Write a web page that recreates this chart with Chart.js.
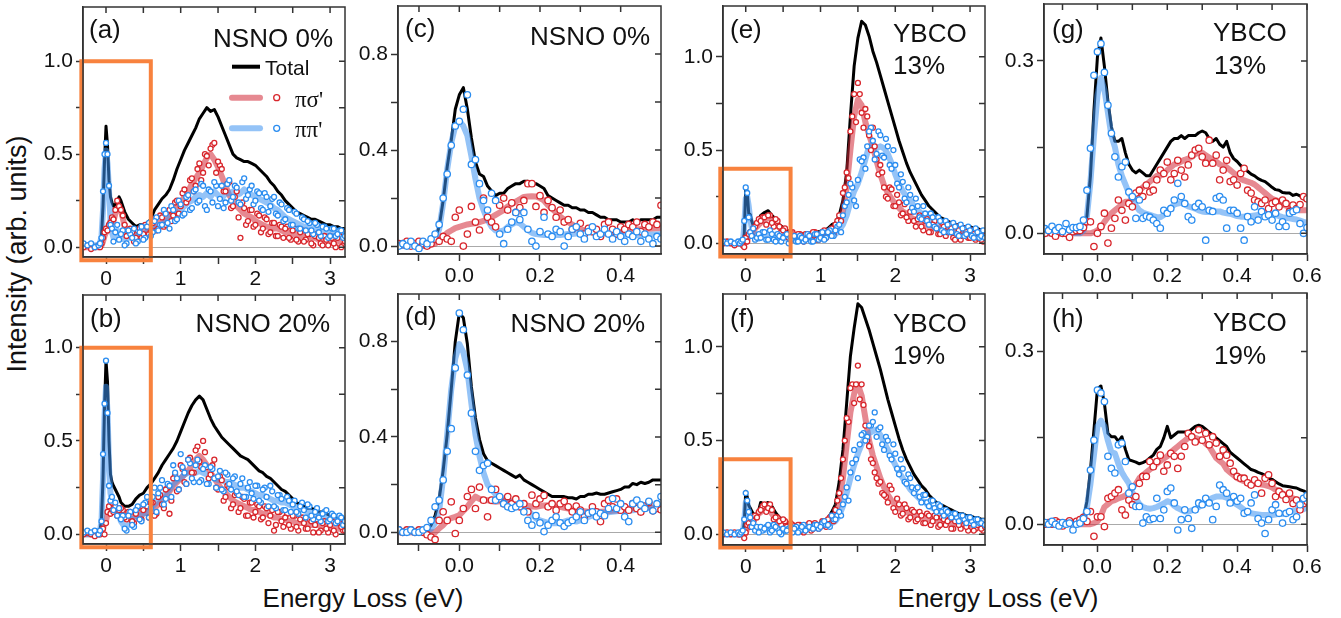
<!DOCTYPE html>
<html>
<head>
<meta charset="utf-8">
<script src="https://cdn.jsdelivr.net/npm/chart.js@4.4.0/dist/chart.umd.min.js"></script>
<style>
  body { margin: 0; background: #fff; width: 1341px; height: 618px; position: relative; overflow: hidden;
         font-family: "Liberation Sans", Arial, sans-serif; }
  canvas { position: absolute; }
  .title { position: absolute; font-size: 26px; line-height: 26px; white-space: nowrap; color: #111; }
</style>
</head>
<body>
<div class="title" style="left:17px;top:254px;font-size:27px;line-height:27px;transform:translate(-50%,-50%) rotate(-90deg)">Intensity (arb. units)</div>
<div class="title" style="left:363px;top:585px;transform:translateX(-50%)">Energy Loss (eV)</div>
<div class="title" style="left:998px;top:585px;transform:translateX(-50%)">Energy Loss (eV)</div>
<script>
// energy grid for the wide panels (a, b, e, f)
const WX = [-0.3,-0.25,-0.2,-0.15,-0.1,
  -0.08,-0.06,-0.04,-0.02,0,0.02,0.04,0.06,0.08,0.1,
  0.125,0.15,0.175,
  0.2,0.25,0.3,0.35,0.4,0.45,0.5,0.55,0.6,0.65,
  0.7,0.75,0.8,0.85,0.9,0.95,1,1.05,1.1,1.15,
  1.2,1.25,1.3,1.35,1.4,1.45,1.5,1.55,1.6,1.65,
  1.7,1.75,1.8,1.85,1.9,1.95,2,2.05,2.1,2.15,
  2.2,2.25,2.3,2.35,2.4,2.45,2.5,2.55,2.6,2.65,
  2.7,2.75,2.8,2.85,2.9,2.95,3,3.05,3.1,3.15,
  3.2];
// in-between energies of the extra data points in the wide panels
const WX2 = [0.225,0.275,0.325,0.375,0.425,0.475,0.525,0.575,0.625,0.675,
  0.725,0.775,0.825,0.875,0.925,0.975,1.025,1.075,1.125,1.175,
  1.225,1.275,1.325,1.375,1.425,1.475,1.525,1.575,1.625,1.675,
  1.725,1.775,1.825,1.875,1.925,1.975,2.025,2.075,2.125,2.175,
  2.225,2.275,2.325,2.375,2.425,2.475,2.525,2.575,2.625,2.675,
  2.725,2.775,2.825,2.875,2.925,2.975,3.025,3.075,3.125,3.175];

// energy grid for the low-energy panels (c, d) and (g, h)
const NX = [-0.15,-0.14,-0.13,-0.12,-0.11,-0.1,-0.09,-0.08,-0.07,-0.06,
  -0.05,-0.04,-0.03,-0.02,-0.01,0,0.01,0.02,0.03,0.04,
  0.05,0.06,0.07,0.08,0.09,0.1,0.11,0.12,0.13,0.14,
  0.15,0.16,0.17,0.18,0.19,0.2,0.21,0.22,0.23,0.24,
  0.25,0.26,0.27,0.28,0.29,0.3,0.31,0.32,0.33,0.34,
  0.35,0.36,0.37,0.38,0.39,0.4,0.41,0.42,0.43,0.44,
  0.45,0.46,0.47,0.48,0.49,0.5];
const YX = NX.concat([0.51,0.52,0.53,0.54,0.55,0.56,0.57,0.58,0.59,0.6]);

// (a) NSNO 0%
const aTotal = [0.01,0.01,0.01,0.01,0.01,
  0.02,0.06,0.22,0.46,0.65,0.55,0.36,0.27,0.24,0.22,
  0.23,0.25,0.27,
  0.25,0.19,0.15,0.13,0.11,0.12,0.12,0.13,0.15,0.2,
  0.23,0.26,0.28,0.31,0.36,0.42,0.47,0.52,0.56,0.6,
  0.64,0.69,0.72,0.75,0.73,0.74,0.7,0.65,0.6,0.55,
  0.5,0.48,0.47,0.46,0.46,0.45,0.44,0.42,0.4,0.38,
  0.35,0.33,0.3,0.28,0.25,0.23,0.21,0.19,0.18,0.17,
  0.16,0.15,0.15,0.14,0.13,0.12,0.12,0.11,0.11,0.1,
  0.1];
const aRedFit = [0,0,0,0,0,
  0,0.01,0.03,0.06,0.08,0.1,0.12,0.14,0.13,0.14,
  0.18,0.21,0.22,
  0.2,0.11,0.07,0.06,0.06,0.07,0.08,0.09,0.1,0.12,
  0.13,0.13,0.15,0.17,0.19,0.22,0.24,0.27,0.3,0.34,
  0.37,0.4,0.44,0.48,0.5,0.47,0.43,0.38,0.33,0.28,
  0.25,0.22,0.2,0.18,0.17,0.16,0.14,0.13,0.12,0.11,
  0.11,0.1,0.1,0.09,0.08,0.08,0.07,0.07,0.06,0.06,
  0.05,0.05,0.05,0.04,0.04,0.04,0.03,0.03,0.03,0.03,
  0.02];
const aBlueFit = [0.01,0.01,0.01,0.01,0.01,
  0.02,0.06,0.2,0.42,0.52,0.45,0.3,0.15,0.08,0.05,
  0.07,0.09,0.07,
  0.05,0.04,0.05,0.05,0.06,0.06,0.07,0.08,0.09,0.1,
  0.11,0.12,0.14,0.15,0.17,0.18,0.2,0.22,0.24,0.25,
  0.27,0.28,0.27,0.29,0.27,0.3,0.28,0.26,0.29,0.29,
  0.3,0.28,0.29,0.31,0.29,0.28,0.27,0.26,0.25,0.24,
  0.23,0.21,0.2,0.18,0.16,0.15,0.14,0.13,0.12,0.11,
  0.11,0.1,0.1,0.09,0.09,0.08,0.08,0.08,0.07,0.07,
  0.07];
const aRedPts = [0,0.01,-0.01,0,0.01,
  0,0.02,0.05,0.08,0.1,0.09,0.12,0.13,0.16,0.15,
  0.2,0.25,0.22,
  0.2,0.12,0.09,0.08,0.05,0.1,0.07,0.11,0.09,0.15,
  0.1,0.16,0.12,0.2,0.17,0.25,0.22,0.31,0.26,0.37,
  0.33,0.45,0.4,0.49,0.53,0.56,0.46,0.42,0.3,0.35,
  0.22,0.3,0.05,0.21,0.14,0.2,0.12,0.17,0.1,0.15,
  0.08,0.13,0.06,0.11,0.1,0.05,0.09,0.04,0.08,0.03,
  0.07,0.02,0.06,0.05,0.01,0.04,0.06,0.02,0.05,0,
  0.03];
const aBluePts = [0.02,0.01,0.02,0,0.01,
  0.02,0.05,0.3,0.5,0.56,0.5,0.33,0.12,0.1,0.03,
  0.08,0.12,0.04,
  0.07,0.01,0.09,0.05,0.02,0.08,0.04,0.11,0.06,0.14,
  0.09,0.12,0.18,0.1,0.2,0.15,0.23,0.18,0.28,0.21,
  0.31,0.25,0.33,0.2,0.3,0.35,0.22,0.33,0.24,0.36,
  0.27,0.32,0.23,0.37,0.28,0.33,0.25,0.29,0.2,0.27,
  0.22,0.27,0.17,0.23,0.15,0.2,0.12,0.18,0.1,0.15,
  0.14,0.09,0.13,0.08,0.11,0.1,0.06,0.1,0.07,0.09,
  0.06];
const aRedPts2 = [0.17,0.06,0.1,0.03,0.09,0.05,0.12,0.07,0.13,0.09,
  0.17,0.11,0.19,0.14,0.24,0.18,0.29,0.24,0.36,0.3,
  0.42,0.36,0.5,0.44,0.55,0.4,0.44,0.3,0.34,0.21,
  0.27,0.16,0.24,0.12,0.2,0.11,0.18,0.08,0.16,0.07,
  0.13,0.06,0.12,0.05,0.11,0.04,0.1,0.03,0.09,0.04,
  0.07,0.01,0.07,0.02,0.06,0.01,0.05,0,0.06,0.01];
const aBluePts2 = [0.09,0.02,0.07,0.1,0.03,0.11,0.05,0.13,0.08,0.16,
  0.12,0.2,0.13,0.22,0.14,0.25,0.17,0.27,0.2,0.3,
  0.24,0.34,0.22,0.31,0.24,0.33,0.26,0.21,0.34,0.25,
  0.33,0.24,0.35,0.26,0.31,0.23,0.3,0.21,0.29,0.19,
  0.26,0.18,0.24,0.14,0.21,0.12,0.19,0.1,0.16,0.09,
  0.13,0.07,0.12,0.06,0.11,0.05,0.1,0.06,0.09,0.05];

// (b) NSNO 20%
const bTotal = [0,0,0,0,0.01,
  0.02,0.08,0.3,0.68,0.93,0.82,0.5,0.32,0.28,0.26,
  0.24,0.22,0.2,
  0.17,0.15,0.15,0.16,0.19,0.21,0.22,0.25,0.27,0.3,
  0.33,0.37,0.4,0.43,0.46,0.5,0.55,0.6,0.65,0.69,
  0.72,0.74,0.72,0.67,0.62,0.58,0.55,0.52,0.5,0.48,
  0.46,0.44,0.42,0.41,0.4,0.38,0.36,0.34,0.33,0.31,
  0.3,0.28,0.26,0.24,0.23,0.21,0.19,0.17,0.16,0.15,
  0.14,0.14,0.13,0.12,0.12,0.11,0.1,0.1,0.09,0.09,
  0.08];
const bRedFit = [0,0,0,0,0,
  0,0,0.03,0.06,0.07,0.11,0.15,0.14,0.13,0.13,
  0.13,0.12,0.12,
  0.12,0.11,0.1,0.09,0.1,0.11,0.11,0.12,0.13,0.14,
  0.16,0.18,0.2,0.23,0.26,0.28,0.3,0.32,0.34,0.37,
  0.4,0.42,0.4,0.37,0.33,0.3,0.27,0.24,0.22,0.2,
  0.18,0.17,0.16,0.15,0.14,0.13,0.13,0.12,0.11,0.11,
  0.1,0.09,0.09,0.08,0.08,0.07,0.07,0.06,0.06,0.06,
  0.05,0.05,0.05,0.05,0.04,0.04,0.04,0.04,0.03,0.03,
  0.03];
const bBlueFit = [0,0,0,0,0.01,
  0.02,0.07,0.3,0.63,0.79,0.66,0.36,0.22,0.18,0.15,
  0.14,0.12,0.1,
  0.07,0.04,0.05,0.08,0.09,0.1,0.11,0.12,0.14,0.16,
  0.18,0.2,0.22,0.24,0.27,0.29,0.3,0.32,0.33,0.33,
  0.33,0.34,0.33,0.32,0.31,0.3,0.29,0.29,0.28,0.28,
  0.27,0.26,0.25,0.25,0.24,0.23,0.22,0.21,0.21,0.2,
  0.19,0.18,0.18,0.17,0.17,0.16,0.15,0.14,0.14,0.13,
  0.12,0.12,0.11,0.11,0.1,0.1,0.09,0.09,0.08,0.08,
  0.08];
const bRedPts = [0,0.01,0,-0.01,0,
  0,0.01,0.03,0,0.06,0.12,0.15,0.11,0.17,0.12,
  0.15,0.1,0.13,
  0.14,0.09,0.12,0.07,0.11,0.08,0.13,0.15,0.17,0.1,
  0.2,0.16,0.24,0.11,0.3,0.23,0.37,0.28,0.4,0.33,
  0.45,0.39,0.5,0.36,0.32,0.4,0.24,0.29,0.2,0.25,
  0.16,0.22,0.14,0.19,0.1,0.17,0.12,0.15,0.09,0.14,
  0.1,0.02,0.12,0.07,0.09,0.05,0.1,0.04,0.08,0.06,
  0.03,0.07,0.05,0.01,0.06,0.03,0.05,0.02,0.06,0.04,
  0.02];
const bBluePts = [0.01,0.02,0.01,0.02,0,
  0.02,0.07,0.43,0.7,0.93,0.65,0.26,0.18,0.2,0.13,
  0.17,0.1,0.14,
  0.08,0.03,0.1,0.05,0.13,0.08,0.16,0.2,0.14,0.25,
  0.22,0.29,0.19,0.26,0.37,0.3,0.43,0.33,0.4,0.3,
  0.37,0.28,0.35,0.27,0.36,0.3,0.31,0.24,0.33,0.27,
  0.3,0.23,0.27,0.2,0.25,0.22,0.26,0.18,0.24,0.2,
  0.26,0.15,0.21,0.19,0.13,0.18,0.16,0.12,0.15,0.13,
  0.16,0.1,0.12,0.09,0.11,0.13,0.08,0.1,0.07,0.09,
  0.07];
const bRedPts2 = [0.13,0.08,0.12,0.06,0.14,0.08,0.15,0.09,0.17,0.11,
  0.21,0.14,0.25,0.18,0.32,0.24,0.35,0.27,0.41,0.33,
  0.47,0.36,0.44,0.3,0.37,0.25,0.31,0.18,0.26,0.14,
  0.21,0.12,0.2,0.1,0.17,0.09,0.16,0.08,0.15,0.06,
  0.13,0.05,0.12,0.04,0.11,0.03,0.1,0.02,0.09,0.03,
  0.08,0.01,0.08,0.02,0.07,0.01,0.07,0,0.06,0.02];
const bBluePts2 = [0.1,0.02,0.12,0.04,0.15,0.07,0.17,0.09,0.2,0.12,
  0.25,0.16,0.27,0.2,0.33,0.24,0.36,0.27,0.38,0.28,
  0.4,0.29,0.37,0.27,0.35,0.25,0.34,0.23,0.32,0.24,
  0.31,0.21,0.3,0.2,0.28,0.19,0.26,0.17,0.25,0.15,
  0.23,0.14,0.21,0.13,0.2,0.12,0.18,0.11,0.17,0.09,
  0.15,0.08,0.14,0.07,0.12,0.07,0.11,0.06,0.1,0.05];

// (c) NSNO 0%, low energy
const cTotal = [0.01,0.01,0.01,0.01,0.01,0.01,0.01,0.01,0.02,0.03,
  0.08,0.19,0.33,0.44,0.57,0.63,0.66,0.57,0.45,0.35,
  0.3,0.29,0.25,0.23,0.21,0.22,0.22,0.24,0.25,0.26,
  0.26,0.27,0.27,0.26,0.26,0.25,0.24,0.21,0.2,0.19,
  0.18,0.17,0.17,0.16,0.16,0.15,0.15,0.14,0.14,0.13,
  0.12,0.12,0.11,0.11,0.11,0.1,0.1,0.1,0.11,0.1,
  0.11,0.11,0.11,0.11,0.12,0.12];
const cRedFit = [0,0,0,0,0,0,0,0,0.005,0.01,
  0.025,0.04,0.055,0.065,0.075,0.08,0.085,0.09,0.093,0.095,
  0.1,0.105,0.11,0.12,0.13,0.14,0.15,0.165,0.175,0.185,
  0.195,0.205,0.207,0.208,0.207,0.2,0.19,0.17,0.155,0.14,
  0.123,0.11,0.1,0.09,0.08,0.07,0.065,0.06,0.058,0.055,
  0.054,0.053,0.053,0.055,0.058,0.062,0.065,0.067,0.068,0.07,
  0.07,0.071,0.072,0.073,0.074,0.075];
const cBlueFit = [0,0,0,0,0,0,0,0.005,0.01,0.03,
  0.07,0.18,0.32,0.43,0.5,0.52,0.5,0.46,0.375,0.28,
  0.2,0.15,0.11,0.08,0.065,0.06,0.065,0.08,0.09,0.1,
  0.095,0.08,0.067,0.055,0.05,0.048,0.046,0.046,0.045,0.046,
  0.046,0.048,0.05,0.05,0.052,0.055,0.057,0.058,0.058,0.056,
  0.055,0.054,0.053,0.052,0.05,0.05,0.048,0.046,0.045,0.045,
  0.045,0.046,0.047,0.048,0.048,0.05];
const cRedPts = [0.01,0.01,0.02,0,0.01,0.02,0.01,0,0.01,0.03,
  0.02,0.04,0.03,0.02,0.12,0.15,0,0.05,0.165,0.1,
  0.067,0.2,0.12,0.1,0.08,0.17,0.2,0.15,0.18,0.14,
  0.16,0.19,0.26,0.26,0.165,0.21,0.14,0.19,0.16,0.12,
  0.15,0.1,0.11,0.07,0.08,0.095,0.05,0.074,0.06,0.07,
  0.04,0.09,0.1,0.07,0.05,0.08,0.07,0.09,0.08,0.1,
  0.06,0.09,0.08,0.1,0.09,0.17];
const cBluePts = [0,0.01,0,0.02,0,-0.01,0.02,0.01,0.03,0.05,
  0.09,0.2,0.3,0.42,0.5,0.52,0.57,0.63,0.34,0.36,
  0.26,0.19,0.15,0.22,0.19,0.05,0.01,0.07,0.1,0.14,
  0.11,0.14,0.07,0.02,0,0.06,0.12,0.05,0.04,0.07,
  0.06,0,0.04,0.07,0.08,0.05,0.03,0.06,0.08,0.04,
  0.05,0.07,0.05,0.03,0.06,0.04,0.02,0.05,0.04,0.06,
  0.02,0.05,0.03,0.01,0.04,0.03];

// (d) NSNO 20%, low energy
const dTotal = [0.01,0.01,0.01,0.01,0.01,0.01,0.01,0.01,0.03,0.07,
  0.14,0.26,0.41,0.6,0.8,0.92,0.9,0.79,0.61,0.48,
  0.39,0.33,0.3,0.29,0.28,0.27,0.26,0.25,0.24,0.23,
  0.24,0.22,0.21,0.2,0.19,0.18,0.17,0.16,0.15,0.15,
  0.15,0.15,0.145,0.145,0.14,0.15,0.15,0.16,0.16,0.165,
  0.16,0.16,0.165,0.17,0.175,0.18,0.19,0.19,0.205,0.2,
  0.21,0.205,0.21,0.22,0.22,0.22];
const dRedFit = [0,0,0,0,0,0,0,0,0,0,
  0.017,0.03,0.05,0.06,0.065,0.072,0.09,0.107,0.13,0.15,
  0.14,0.137,0.135,0.13,0.128,0.13,0.133,0.135,0.13,0.125,
  0.12,0.115,0.112,0.108,0.107,0.11,0.113,0.114,0.11,0.108,
  0.107,0.103,0.1,0.096,0.093,0.09,0.088,0.086,0.086,0.086,
  0.086,0.087,0.088,0.09,0.092,0.093,0.096,0.1,0.103,0.105,
  0.107,0.106,0.104,0.102,0.1,0.1];
const dBlueFit = [0,0,0,0,0,0,0,0.005,0.015,0.04,
  0.09,0.23,0.41,0.6,0.73,0.79,0.755,0.68,0.54,0.41,
  0.32,0.25,0.2,0.18,0.16,0.15,0.14,0.135,0.125,0.12,
  0.11,0.1,0.093,0.075,0.058,0.05,0.045,0.04,0.038,0.038,
  0.04,0.045,0.05,0.048,0.045,0.05,0.055,0.065,0.07,0.075,
  0.08,0.082,0.084,0.086,0.088,0.09,0.09,0.092,0.093,0.095,
  0.097,0.1,0.102,0.104,0.107,0.11];
const dRedPts = [0.01,0,0.01,0.01,0,0.01,0,-0.01,-0.02,-0.03,
  0.05,0.086,0.05,0.128,-0.005,0.05,0.1,0.15,0.18,0.1,
  0.19,0.135,0.065,0.135,0.18,0.14,0.12,0.15,0.12,0.14,
  0.107,0.12,0.086,0.156,0.12,0.14,0.155,0.107,0.12,0.093,
  0.12,0.13,0.107,0.086,0.11,0.093,0.065,0.08,0.107,0.086,
  0.045,0.12,0.135,0.107,0.14,0.093,0.107,0.093,0.12,0.1,
  0.085,0.11,0.125,0.09,0.1,0.095];
const dBluePts = [0.01,0,0,0.01,0,0,0.01,0.02,0.05,0.107,
  0.135,0.22,0.34,0.435,0.69,0.92,0.85,0.66,0.5,0.34,
  0.26,0.28,0.29,0.18,0.135,0.15,0.12,0.107,0.1,0.107,
  0.12,0.086,0.05,0.03,0.07,0.04,0.003,0.03,0.05,0.065,
  0.04,0.025,0.04,0.05,0.065,0.086,0.05,0.08,0.086,0.065,
  0.08,0.07,0.1,0.142,0.1,0.12,0.065,0.045,0.12,0.135,
  0.115,0.1,0.13,0.09,0.12,0.15];

// (e) YBCO 13%
const eTotal = [0,0,0,0,0,
  0,0,0.01,0.05,0.3,0.28,0.16,0.155,0.12,0.095,
  0.1,0.1,0.13,
  0.15,0.165,0.175,0.15,0.13,0.1,0.085,0.07,0.06,0.05,
  0.05,0.05,0.05,0.055,0.06,0.06,0.065,0.07,0.08,0.1,
  0.11,0.15,0.23,0.38,0.68,0.95,1.1,1.19,1.17,1.11,
  1.03,0.97,0.9,0.83,0.76,0.69,0.62,0.55,0.49,0.43,
  0.38,0.34,0.3,0.26,0.23,0.2,0.18,0.16,0.14,0.13,
  0.12,0.11,0.1,0.1,0.09,0.09,0.09,0.08,0.08,0.07,
  0.07];
const eRedFit = [0,0,0,0,0,
  0,0,0,0,0.005,0.02,0.035,0.045,0.055,0.06,
  0.08,0.09,0.1,
  0.11,0.125,0.14,0.125,0.105,0.085,0.065,0.05,0.04,0.035,
  0.035,0.03,0.03,0.035,0.03,0.035,0.04,0.045,0.05,0.06,
  0.08,0.11,0.17,0.3,0.5,0.68,0.77,0.74,0.65,0.58,
  0.52,0.44,0.37,0.31,0.27,0.24,0.21,0.19,0.17,0.16,
  0.14,0.13,0.12,0.11,0.1,0.09,0.09,0.08,0.08,0.07,
  0.07,0.06,0.06,0.06,0.05,0.05,0.05,0.05,0.04,0.04,
  0.04];
const eBlueFit = [0,0,0,0,0,
  0,0,0,0.09,0.24,0.25,0.2,0.13,0.085,0.06,
  0.04,0.03,0.025,
  0.035,0.05,0.04,0.04,0.035,0.03,0.035,0.025,0.02,0.02,
  0.02,0.025,0.025,0.03,0.03,0.035,0.035,0.04,0.045,0.05,
  0.05,0.07,0.1,0.15,0.22,0.28,0.32,0.38,0.45,0.52,
  0.53,0.51,0.52,0.51,0.48,0.43,0.37,0.32,0.28,0.25,
  0.23,0.2,0.18,0.16,0.15,0.13,0.12,0.11,0.1,0.09,
  0.09,0.08,0.08,0.07,0.07,0.06,0.06,0.06,0.05,0.05,
  0.05];
const eRedPts = [0,0.01,0,-0.01,0,
  0,0.01,-0.01,-0.02,0.03,0.01,0.05,0.06,0.04,0.08,
  0.09,0.11,0.13,
  0.12,0.14,0.15,0.11,0.13,0.09,0.07,0.05,0.06,0.02,
  0.05,0.03,0.05,0.04,0.06,0.02,0.05,0.07,0.06,0.08,
  0.1,0.15,0.27,0.38,0.6,0.8,0.86,0.7,0.72,0.58,
  0.62,0.45,0.42,0.3,0.24,0.29,0.2,0.22,0.16,0.14,
  0.17,0.12,0.13,0.09,0.12,0.06,0.1,0.08,0.05,0.09,
  0.06,0.08,0.02,0.07,0.04,0.06,0.03,0.05,0.03,0.02,
  0.04];
const eBluePts = [0.01,0,0.01,0,0.01,
  0,0.01,0.02,0.12,0.3,0.27,0.14,0.06,0.04,0.08,
  0.02,0.03,0.05,
  0.03,0.06,0.02,0.05,0.01,0.04,0.03,0.05,0.02,0.04,
  0.01,0.03,0.02,0.04,0.01,0.05,0.03,0.02,0.06,0.04,
  0.07,0.1,0.15,0.22,0.32,0.23,0.34,0.44,0.4,0.6,
  0.55,0.48,0.58,0.46,0.52,0.4,0.42,0.3,0.33,0.22,
  0.26,0.17,0.2,0.13,0.16,0.1,0.14,0.08,0.12,0.06,
  0.1,0.06,0.09,0.04,0.08,0.05,0.07,0.03,0.06,0.04,
  0.03];
const eRedPts2 = [0.14,0.1,0.15,0.09,0.12,0.06,0.08,0.03,0.06,0.02,
  0.05,0.01,0.05,0.02,0.06,0.02,0.06,0.03,0.07,0.05,
  0.12,0.12,0.3,0.35,0.68,0.65,0.8,0.62,0.68,0.5,
  0.52,0.37,0.38,0.25,0.3,0.2,0.26,0.15,0.21,0.12,
  0.17,0.09,0.15,0.07,0.13,0.06,0.12,0.05,0.11,0.04,
  0.1,0.03,0.09,0.02,0.08,0.03,0.07,0.02,0.06,0.01];
const eBluePts2 = [0.06,0.02,0.07,0.02,0.05,0.01,0.04,0,0.03,0.01,
  0.04,0.01,0.05,0.01,0.05,0.02,0.06,0.03,0.07,0.04,
  0.09,0.06,0.2,0.26,0.3,0.2,0.45,0.46,0.52,0.62,
  0.45,0.6,0.47,0.56,0.42,0.5,0.32,0.37,0.24,0.3,
  0.19,0.24,0.14,0.2,0.12,0.16,0.09,0.14,0.07,0.12,
  0.06,0.11,0.05,0.1,0.04,0.09,0.04,0.08,0.03,0.07];

// (f) YBCO 19%
const fTotal = [0,0,0,0,0,
  0,0,0,0.06,0.23,0.2,0.155,0.14,0.125,0.11,
  0.105,0.11,0.13,
  0.17,0.16,0.17,0.15,0.115,0.09,0.078,0.063,0.055,0.05,
  0.05,0.045,0.045,0.045,0.05,0.055,0.06,0.07,0.085,0.12,
  0.16,0.28,0.45,0.7,0.95,1.1,1.23,1.21,1.15,1.09,
  1.02,0.95,0.88,0.8,0.72,0.65,0.58,0.51,0.45,0.4,
  0.36,0.32,0.29,0.26,0.24,0.21,0.19,0.17,0.16,0.15,
  0.14,0.13,0.12,0.11,0.11,0.1,0.1,0.09,0.09,0.08,
  0.08];
const fRedFit = [0,0,0,0,0,
  0,0,0,0,0.005,0.03,0.04,0.045,0.05,0.065,
  0.085,0.1,0.11,
  0.118,0.14,0.146,0.11,0.08,0.07,0.064,0.05,0.04,0.035,
  0.035,0.03,0.03,0.035,0.035,0.04,0.045,0.05,0.06,0.08,
  0.1,0.18,0.3,0.48,0.65,0.75,0.8,0.74,0.62,0.5,
  0.42,0.36,0.3,0.25,0.21,0.18,0.16,0.14,0.13,0.12,
  0.11,0.1,0.1,0.09,0.09,0.08,0.08,0.07,0.07,0.07,
  0.06,0.06,0.06,0.06,0.05,0.05,0.05,0.05,0.04,0.04,
  0.04];
const fBlueFit = [0,0,0,0,0,
  0,0,0,0.07,0.17,0.17,0.12,0.095,0.075,0.055,
  0.03,0.025,0.033,
  0.036,0.022,0.03,0.048,0.042,0.019,0.015,0.02,0.028,0.025,
  0.025,0.025,0.03,0.03,0.035,0.04,0.045,0.05,0.055,0.06,
  0.07,0.1,0.15,0.22,0.3,0.37,0.43,0.48,0.52,0.54,
  0.55,0.56,0.53,0.49,0.45,0.41,0.37,0.33,0.3,0.27,
  0.24,0.22,0.2,0.18,0.17,0.15,0.14,0.13,0.12,0.11,
  0.11,0.1,0.1,0.09,0.08,0.08,0.07,0.07,0.07,0.06,
  0.06];
const fRedPts = [0,0.01,0,0.01,0,
  0,0.01,0,-0.02,0.01,0.05,0.06,0.04,0.08,0.07,
  0.1,0.09,0.12,
  0.13,0.16,0.14,0.13,0.09,0.07,0.08,0.04,0.06,0.03,
  0.05,0.02,0.04,0.06,0.03,0.05,0.04,0.07,0.08,0.1,
  0.13,0.22,0.4,0.62,0.78,0.7,0.9,0.8,0.58,0.47,
  0.38,0.3,0.28,0.21,0.17,0.24,0.12,0.16,0.11,0.14,
  0.09,0.12,0.08,0.1,0.06,0.1,0.07,0.09,0.05,0.08,
  0.07,0.03,0.07,0.05,0.08,0.04,0.06,0.02,0.05,0.03,
  0.04];
const fBluePts = [0.01,0,0.01,0,0.01,
  0,0.01,0.02,0.08,0.22,0.18,0.12,0.09,0.04,0.06,
  0.02,0.04,0.01,
  0.04,0.03,0.05,0.02,0.04,0.01,0.03,0.02,0.04,0.03,
  0.01,0.04,0.02,0.04,0.03,0.05,0.04,0.07,0.05,0.1,
  0.08,0.12,0.16,0.25,0.33,0.45,0.3,0.53,0.5,0.58,
  0.6,0.52,0.57,0.45,0.5,0.4,0.43,0.32,0.35,0.27,
  0.3,0.22,0.25,0.17,0.21,0.15,0.18,0.12,0.15,0.1,
  0.12,0.09,0.11,0.07,0.1,0.06,0.09,0.05,0.08,0.06,
  0.05];
const fRedPts2 = [0.15,0.12,0.16,0.08,0.09,0.05,0.07,0.03,0.05,0.02,
  0.05,0.01,0.05,0.02,0.06,0.03,0.07,0.04,0.09,0.07,
  0.18,0.3,0.5,0.6,0.8,0.8,0.72,0.69,0.5,0.4,
  0.33,0.27,0.22,0.2,0.26,0.14,0.19,0.1,0.16,0.08,
  0.13,0.07,0.12,0.06,0.11,0.05,0.1,0.04,0.09,0.05,
  0.08,0.03,0.08,0.03,0.07,0.02,0.06,0.03,0.06,0.02];
const fBluePts2 = [0.02,0.04,0.01,0.05,0.03,0,0.02,0.03,0.01,0.04,
  0.02,0.05,0.03,0.04,0.05,0.03,0.06,0.05,0.04,0.08,
  0.1,0.1,0.2,0.18,0.38,0.4,0.48,0.54,0.52,0.58,
  0.65,0.56,0.48,0.52,0.42,0.48,0.35,0.4,0.28,0.32,
  0.25,0.24,0.2,0.21,0.17,0.18,0.14,0.16,0.12,0.13,
  0.11,0.11,0.09,0.1,0.08,0.09,0.07,0.08,0.06,0.07];

// (g) YBCO 13%, low energy
const gTotal = [0,0,0,0,0,0,0,0,0,0,
  0,0.005,0.03,0.1,0.214,0.307,0.34,0.29,0.23,0.185,
  0.16,0.16,0.165,0.14,0.12,0.11,0.105,0.11,0.105,0.1,
  0.1,0.11,0.12,0.13,0.14,0.15,0.16,0.165,0.165,0.17,
  0.165,0.17,0.17,0.17,0.175,0.178,0.175,0.165,0.16,0.165,
  0.155,0.15,0.16,0.14,0.13,0.125,0.118,0.113,0.108,0.103,
  0.1,0.095,0.092,0.09,0.085,0.08,0.076,0.075,0.071,0.07,
  0.07,0.066,0.068,0.065,0.06,0.058];
const gRedFit = [0,0,0,0,0,0,0,0,0,0,
  0,0,0,0,0.002,0.005,0.01,0.02,0.028,0.035,
  0.04,0.045,0.05,0.055,0.055,0.06,0.065,0.075,0.08,0.085,
  0.09,0.095,0.1,0.1,0.104,0.11,0.115,0.12,0.122,0.125,
  0.128,0.13,0.133,0.138,0.14,0.14,0.136,0.132,0.128,0.125,
  0.12,0.117,0.115,0.11,0.105,0.1,0.095,0.092,0.09,0.088,
  0.085,0.08,0.075,0.07,0.065,0.06,0.058,0.055,0.05,0.048,
  0.046,0.044,0.042,0.04,0.04,0.04];
const gBlueFit = [0,0,0,0,0,0,0,0,0,0,
  0,0.005,0.03,0.09,0.17,0.24,0.27,0.25,0.21,0.17,
  0.15,0.12,0.1,0.085,0.07,0.06,0.048,0.04,0.036,0.034,
  0.032,0.03,0.028,0.028,0.032,0.038,0.045,0.05,0.052,0.053,
  0.05,0.047,0.045,0.043,0.04,0.038,0.037,0.037,0.038,0.038,
  0.038,0.036,0.035,0.034,0.032,0.03,0.029,0.029,0.03,0.03,
  0.031,0.032,0.033,0.034,0.034,0.034,0.032,0.03,0.028,0.027,
  0.026,0.025,0.024,0.022,0.02,0.018];
const gRedPts = [0,0.005,0,-0.005,0.003,0,0,-0.007,0.003,0.005,
  0.005,0.01,0.02,0.02,-0.023,0,0.012,0.035,-0.017,0.009,
  0.026,0.058,0.04,0.023,0.052,0.046,0.07,0.075,0.064,0.084,
  0.072,0.075,0.093,0.11,0.104,0.124,0.093,0.104,0.127,0.11,
  0.098,0.119,0.136,0.145,0.148,0.133,0.122,0.162,0.122,0.136,
  0.093,0.11,0.127,0.09,0.093,0.084,0.104,0.113,0.075,0.07,
  0.058,0.055,0.052,0.058,0.043,0.052,0.055,0.046,0.058,0.052,
  0.038,0.049,0.043,0.05,0.064,0.06];
const gBluePts = [0.008,0.005,0.012,0.005,0.01,0.003,0.017,0.006,0.01,0.01,
  0.012,0.023,0.075,0.148,0.275,0.316,0.33,0.28,0.223,0.174,
  0.133,0.098,0.116,0.124,0.072,0.064,0.026,0.058,0.026,0.03,
  0.028,0.023,0.017,0.009,0.04,0.035,0.043,0.058,0.087,0.064,
  0.052,0.029,0.023,0.046,0.052,0.046,-0.012,0.04,0.038,0.061,
  0.064,0.058,0.009,0.04,0.04,0.035,0.009,-0.012,0.029,0.02,
  0.046,0.023,0.038,0.029,0.032,0.023,0.035,0.012,0.02,0.012,
  0.035,0.038,0.041,0.017,0,0.01];

// (h) YBCO 19%, low energy
const hTotal = [0,0,0,0,0,0,0,0,0,0,
  0,0.01,0.04,0.094,0.164,0.235,0.24,0.21,0.158,0.152,
  0.152,0.144,0.152,0.13,0.112,0.11,0.108,0.105,0.107,0.11,
  0.115,0.12,0.13,0.135,0.15,0.17,0.15,0.155,0.16,0.16,
  0.16,0.16,0.165,0.17,0.172,0.17,0.165,0.16,0.155,0.15,
  0.145,0.14,0.135,0.125,0.12,0.115,0.11,0.105,0.1,0.095,
  0.093,0.09,0.088,0.085,0.08,0.078,0.074,0.07,0.067,0.066,
  0.065,0.064,0.063,0.06,0.058,0.055];
const hRedFit = [0,0,0,0,0,0,0,0,0,0,
  0,0,0,0,0.002,0.005,0.015,0.03,0.035,0.04,
  0.042,0.045,0.047,0.05,0.055,0.065,0.07,0.08,0.085,0.09,
  0.095,0.1,0.105,0.11,0.114,0.118,0.125,0.13,0.135,0.14,
  0.145,0.15,0.15,0.15,0.148,0.146,0.14,0.135,0.125,0.115,
  0.11,0.105,0.095,0.09,0.085,0.08,0.077,0.075,0.072,0.07,
  0.07,0.07,0.069,0.068,0.066,0.064,0.06,0.058,0.054,0.05,
  0.047,0.045,0.043,0.04,0.04,0.04];
const hBlueFit = [0,0,0,0,0,0,0,0,0,0,
  0,0.005,0.03,0.07,0.12,0.17,0.18,0.17,0.145,0.125,
  0.123,0.105,0.09,0.08,0.071,0.055,0.045,0.035,0.03,0.028,
  0.027,0.028,0.03,0.033,0.036,0.04,0.038,0.032,0.028,0.025,
  0.022,0.022,0.024,0.026,0.03,0.034,0.038,0.042,0.046,0.048,
  0.048,0.048,0.046,0.042,0.038,0.034,0.03,0.025,0.02,0.019,
  0.018,0.017,0.016,0.016,0.016,0.016,0.017,0.018,0.018,0.02,
  0.022,0.023,0.025,0.025,0.026,0.03];
const hRedPts = [0,0.003,0,0.006,0.003,-0.003,0.002,0.006,0,0.005,
  0.008,0.012,0.005,0.022,-0.021,0.013,0.013,-0.004,0.045,0.048,
  0.054,0.06,0.025,0.016,0.042,0.034,0.048,0.071,0.083,0.083,
  0.109,0.1,0.109,0.12,0.092,0.103,0.123,0.118,0.097,0.118,
  0.135,0.158,0.152,0.143,0.164,0.146,0.158,0.138,0.152,0.141,
  0.118,0.129,0.12,0.106,0.092,0.083,0.08,0.08,0.072,0.068,
  0.077,0.071,0.054,0.08,0.086,0.071,0.048,0.057,0.051,0.043,
  0.054,0.036,0.042,0.025,0.036,0.04];
const hBluePts = [0.003,0,0.005,0,-0.003,0.003,0,0.002,-0.01,0,
  0.002,0.01,0.022,0.094,0.146,0.233,0.228,0.213,0.118,0.097,
  0.089,0.138,0.141,0.109,0.054,0.065,0.031,0.031,0.002,0.013,
  0.008,0.01,0.045,0.01,0.025,0.057,0.063,0.037,-0.01,0.008,
  0.025,0.01,-0.007,0.025,0.037,0.034,0.045,0.037,0.008,0.031,
  0.068,0.06,0.054,0.037,0.048,0.04,0.045,0.019,0.022,0.037,
  0.051,0.01,0.002,-0.016,0.008,0.025,0.034,0.019,0.002,0.019,
  0.022,0.008,0.013,0.034,0.045,0.05];

// tick values (labelled ones listed separately)
const wideXTicks = [0, 0.5, 1, 1.5, 2, 2.5, 3];
const wideXLabels = [0, 1, 2, 3];
const wideYTicks = [0, 0.25, 0.5, 0.75, 1];
const wideYLabels = [0, 0.5, 1];
const nsnoXTicks = [-0.1, 0, 0.1, 0.2, 0.3, 0.4];
const nsnoXLabels = [0, 0.2, 0.4];
const nsnoYTicks = [0, 0.2, 0.4, 0.6, 0.8];
const nsnoYLabels = [0, 0.4, 0.8];
const ybcoXTicks = [-0.1, 0, 0.1, 0.2, 0.3, 0.4, 0.5, 0.6];
const ybcoXLabels = [0, 0.2, 0.4, 0.6];
const ybcoYTicks = [0, 0.15, 0.3];
const ybcoYLabels = [0, 0.3];

// zoom windows marked in the wide panels: [xmin, xmax, ymin, ymax]
const boxNSNO = [-0.33, 0.6, -0.07, 1.0];
const boxYBCO = [-0.34, 0.6, -0.07, 0.4];

const RED = '#d8262c', BLUE = '#2b8df0';
const RED_FIT = 'rgba(210,40,55,0.55)', BLUE_FIT = 'rgba(60,145,240,0.55)';
const ORANGE = '#f8823e', FRAME = '#333';
const SANS = '"Liberation Sans", Arial, sans-serif';
const PANEL_FONT = '26px ' + SANS;

Chart.defaults.font.family = SANS;

const PT = 16, PR = 22, YW = 70, XH = 44;

function xy(xs, ys) {
  return ys.map((y, i) => ({ x: xs[i], y: y }));
}

function axis(min, max, ticks, labels, dec) {
  return {
    type: 'linear', min: min, max: max,
    afterBuildTicks: s => { s.ticks = ticks.map(v => ({ value: v })); },
    ticks: {
      autoSkip: false, maxRotation: 0, padding: 3, color: '#111', font: { size: 21 },
      callback: v => labels.includes(v) ? v.toFixed(dec) : ''
    },
    grid: { drawOnChartArea: false, tickLength: 7, tickWidth: 1.5, tickColor: FRAME },
    border: { color: FRAME, width: 1.5 }
  };
}

function makePanel(p) {
  const left = Math.round(p.frame[0] - YW), top = Math.round(p.frame[2] - PT);
  const w = Math.round(p.frame[1] + PR) - left, h = Math.round(p.frame[3] + XH) - top;
  const cv = document.createElement('canvas');
  cv.width = w; cv.height = h;
  cv.style.left = left + 'px'; cv.style.top = top + 'px';
  document.body.appendChild(cv);

  const line = (ys, color, width, order) => ({
    data: xy(p.x, ys), borderColor: color, borderWidth: width, pointRadius: 0,
    borderJoinStyle: 'round', borderCapStyle: 'round', order: order
  });
  const dots = (xs, ys, color, order) => ({
    data: xy(xs, ys), showLine: false, pointRadius: p.r, pointBorderWidth: 1.3,
    pointBorderColor: color, pointBackgroundColor: '#fff', order: order
  });
  const sets = [
    line(p.total, '#000', 3, 5),
    line(p.redFit, RED_FIT, 6, 4),
    line(p.blueFit, BLUE_FIT, 6, 3),
    dots(p.x, p.redPts, RED, 2),
    dots(p.x, p.bluePts, BLUE, 1)
  ];
  if (p.redPts2) {
    sets.push(dots(WX2, p.redPts2, RED, 2), dots(WX2, p.bluePts2, BLUE, 1));
  }
  if (p.box) {
    const [x0, x1, y0, y1] = p.box;
    sets.push({
      data: [{ x: x0, y: y0 }, { x: x0, y: y1 }, { x: x1, y: y1 }, { x: x1, y: y0 }, { x: x0, y: y0 }],
      borderColor: ORANGE, borderWidth: 4, pointRadius: 0, clip: false, order: 0,
      borderJoinStyle: 'miter', borderCapStyle: 'square'
    });
  }

  const xAxis = axis(p.xr[0], p.xr[1], p.xt[0], p.xt[1], p.xd);
  xAxis.afterFit = s => { s.height = XH; };
  const yAxis = axis(p.yr[0], p.yr[1], p.yt[0], p.yt[1], p.yd);
  yAxis.afterFit = s => { s.width = YW; };
  yAxis.grid.drawOnChartArea = true;
  yAxis.grid.lineWidth = 1;
  yAxis.grid.color = c => (c.tick && c.tick.value === 0) ? '#aaa' : 'rgba(0,0,0,0)';

  new Chart(cv, {
    type: 'line',
    data: { datasets: sets },
    options: {
      responsive: false, animation: false, events: [],
      layout: { padding: { left: 0, top: PT, right: PR, bottom: 0 } },
      plugins: { legend: { display: false }, tooltip: { enabled: false } },
      scales: { x: xAxis, y: yAxis }
    },
    plugins: [{
      id: 'deco',
      afterDatasetsDraw(chart) {
        const a = chart.chartArea, ctx = chart.ctx;
        ctx.save();
        ctx.strokeStyle = FRAME; ctx.lineWidth = 1.5;
        ctx.strokeRect(a.left, a.top, a.right - a.left, a.bottom - a.top);
        ctx.beginPath();
        chart.scales.x.ticks.forEach(t => {
          const px = chart.scales.x.getPixelForValue(t.value);
          ctx.moveTo(px, a.top); ctx.lineTo(px, a.top + 6);
        });
        chart.scales.y.ticks.forEach(t => {
          const py = chart.scales.y.getPixelForValue(t.value);
          ctx.moveTo(a.right, py); ctx.lineTo(a.right - 6, py);
        });
        ctx.stroke();
        ctx.restore();
      },
      afterDraw(chart) {
        const ctx = chart.ctx;
        ctx.save();
        ctx.fillStyle = '#111';
        ctx.textBaseline = 'alphabetic';
        p.texts.forEach(t => {
          ctx.font = PANEL_FONT;
          ctx.textAlign = t[3] || 'left';
          ctx.fillText(t[0], t[1] - left, t[2] - top);
        });
        if (p.legend) {
          const rows = [
            { y: 66.7, color: '#000', width: 4, dot: null, text: 'Total', font: '21px ' + SANS, base: 75 },
            { y: 97.7, color: RED_FIT, width: 6, dot: RED, text: 'πσ\'', font: '23px "Liberation Serif", serif', base: 106.5 },
            { y: 128.3, color: BLUE_FIT, width: 6, dot: BLUE, text: 'ππ\'', font: '23px "Liberation Serif", serif', base: 136.5 }
          ];
          rows.forEach(r => {
            ctx.beginPath();
            ctx.strokeStyle = r.color; ctx.lineWidth = r.width;
            ctx.lineCap = r.dot ? 'round' : 'butt';
            ctx.moveTo(232 - left, r.y - top); ctx.lineTo(260 - left, r.y - top);
            ctx.stroke();
            if (r.dot) {
              ctx.beginPath();
              ctx.arc(276.7 - left, r.y - top, 3, 0, Math.PI * 2);
              ctx.fillStyle = '#fff'; ctx.fill();
              ctx.strokeStyle = r.dot; ctx.lineWidth = 1.3; ctx.stroke();
            }
            ctx.fillStyle = '#111'; ctx.font = r.font; ctx.textAlign = 'left';
            ctx.fillText(r.text, (r.dot ? 295 : 265) - left, r.base - top);
          });
        }
        ctx.restore();
      }
    }]
  });
}

const wideX = [wideXTicks, wideXLabels], wideY = [wideYTicks, wideYLabels];

[
  { frame: [82.7, 345, 7, 256.5], x: WX, xr: [-0.308, 3.2], yr: [-0.053, 1.291], xt: wideX, xd: 0, yt: wideY, yd: 1, r: 2.5,
    total: aTotal, redFit: aRedFit, blueFit: aBlueFit, redPts: aRedPts, bluePts: aBluePts, redPts2: aRedPts2, bluePts2: aBluePts2,
    box: boxNSNO, legend: true,
    texts: [['(a)', 89, 37.5], ['NSNO 0%', 333, 46.5, 'right']] },
  { frame: [82.7, 345, 295, 544], x: WX, xr: [-0.308, 3.2], yr: [-0.052, 1.282], xt: wideX, xd: 0, yt: wideY, yd: 1, r: 2.5,
    total: bTotal, redFit: bRedFit, blueFit: bBlueFit, redPts: bRedPts, bluePts: bBluePts, redPts2: bRedPts2, bluePts2: bBluePts2,
    box: boxNSNO,
    texts: [['(b)', 90, 326.5], ['NSNO 20%', 330, 331.7, 'right']] },
  { frame: [398.3, 660.7, 6, 254], x: NX, xr: [-0.152, 0.5], yr: [-0.033, 1.0], xt: [nsnoXTicks, nsnoXLabels], xd: 1, yt: [nsnoYTicks, nsnoYLabels], yd: 1, r: 3.2,
    total: cTotal, redFit: cRedFit, blueFit: cBlueFit, redPts: cRedPts, bluePts: cBluePts,
    texts: [['(c)', 405, 37], ['NSNO 0%', 650, 45, 'right']] },
  { frame: [398.3, 660.7, 294, 544], x: NX, xr: [-0.152, 0.5], yr: [-0.049, 1.0], xt: [nsnoXTicks, nsnoXLabels], xd: 1, yt: [nsnoYTicks, nsnoYLabels], yd: 1, r: 3.2,
    total: dTotal, redFit: dRedFit, blueFit: dBlueFit, redPts: dRedPts, bluePts: dBluePts,
    texts: [['(d)', 405, 325], ['NSNO 20%', 645, 331.7, 'right']] },
  { frame: [723.3, 985, 6, 254], x: WX, xr: [-0.304, 3.2], yr: [-0.057, 1.272], xt: wideX, xd: 0, yt: wideY, yd: 1, r: 2.5,
    total: eTotal, redFit: eRedFit, blueFit: eBlueFit, redPts: eRedPts, bluePts: eBluePts, redPts2: eRedPts2, bluePts2: eBluePts2,
    box: boxYBCO,
    texts: [['(e)', 730, 37.5], ['YBCO', 893, 41.7], ['13%', 893, 74]] },
  { frame: [723.3, 985, 294, 545], x: WX, xr: [-0.304, 3.2], yr: [-0.057, 1.282], xt: wideX, xd: 0, yt: wideY, yd: 1, r: 2.5,
    total: fTotal, redFit: fRedFit, blueFit: fBlueFit, redPts: fRedPts, bluePts: fBluePts, redPts2: fRedPts2, bluePts2: fBluePts2,
    box: boxYBCO,
    texts: [['(f)', 730, 327], ['YBCO', 893, 331.7], ['19%', 893, 364]] },
  { frame: [1044.3, 1306.7, 4, 254], x: YX, xr: [-0.153, 0.6], yr: [-0.036, 0.399], xt: [ybcoXTicks, ybcoXLabels], xd: 1, yt: [ybcoYTicks, ybcoYLabels], yd: 1, r: 3.2,
    total: gTotal, redFit: gRedFit, blueFit: gBlueFit, redPts: gRedPts, bluePts: gBluePts,
    texts: [['(g)', 1052, 37.5], ['YBCO', 1213, 40.7], ['13%', 1214, 74]] },
  { frame: [1044.3, 1306.7, 293.3, 545], x: YX, xr: [-0.153, 0.6], yr: [-0.036, 0.4015], xt: [ybcoXTicks, ybcoXLabels], xd: 1, yt: [ybcoYTicks, ybcoYLabels], yd: 1, r: 3.2,
    total: hTotal, redFit: hRedFit, blueFit: hBlueFit, redPts: hRedPts, bluePts: hBluePts,
    texts: [['(h)', 1052, 327], ['YBCO', 1213, 330.7], ['19%', 1214, 364]] }
].forEach(makePanel);
</script>
</body>
</html>
